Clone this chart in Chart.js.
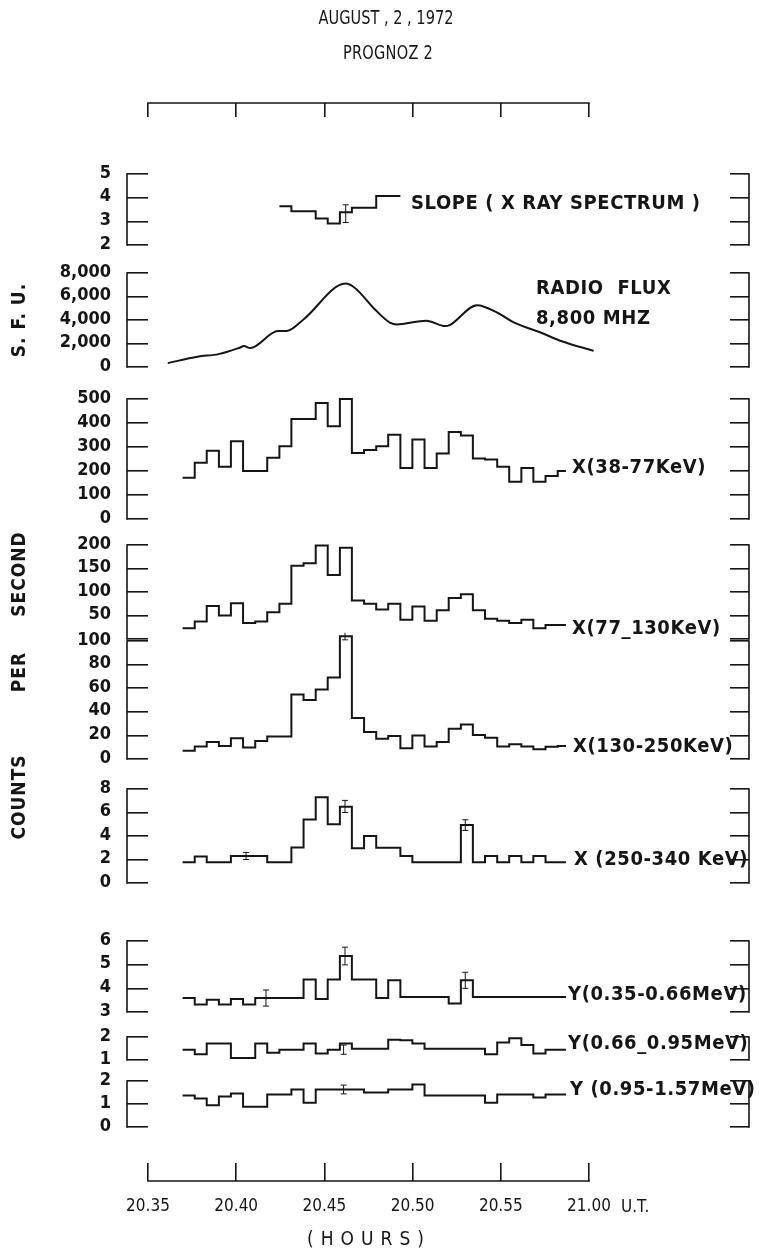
<!DOCTYPE html>
<html>
<head>
<meta charset="utf-8">
<script src="https://cdn.jsdelivr.net/npm/chart.js@4.4.0/dist/chart.umd.min.js"></script>
<style>
  body { margin: 0; background: #fff; }
  #fig { position: relative; width: 765px; height: 1254px; overflow: hidden; background: #fff;
         font-family: "DejaVu Sans Condensed", "Liberation Sans Narrow", "DejaVu Sans", sans-serif; color: #151515; }
  #fig canvas { position: absolute; left: 0; }
  .t { position: absolute; white-space: nowrap; transform: translateY(-50%); }
  .c { transform: translate(-50%, -50%); }
  .ttl { position: absolute; white-space: nowrap; font-size: 20px; transform: translate(-50%, -50%) scaleX(0.81); }
  .v { position: absolute; white-space: nowrap; font-weight: bold; font-size: 19px; letter-spacing: 1px;
       transform: translate(-50%, -50%) rotate(-90deg); }
  .lab { font-weight: bold; font-size: 20px; letter-spacing: 0.6px; }
</style>
</head>
<body>
<div id="fig">
  <div class="ttl" style="left:386px;top:17px">AUGUST , 2 , 1972</div>
  <div class="ttl" style="left:388px;top:52px;letter-spacing:0.3px">PROGNOZ 2</div>

  <div class="v" style="left:18px;top:320px">S. F. U.</div>
  <div class="v" style="left:18px;top:574px">SECOND</div>
  <div class="v" style="left:18px;top:672px">PER</div>
  <div class="v" style="left:18px;top:797px">COUNTS</div>

  <div class="t lab" style="left:411px;top:202px">SLOPE ( X RAY SPECTRUM )</div>
  <div class="t lab" style="left:536px;top:287px">RADIO&nbsp; FLUX</div>
  <div class="t lab" style="left:536px;top:317px">8,800 MHZ</div>
  <div class="t lab" style="left:572px;top:466px">X(38-77KeV)</div>
  <div class="t lab" style="left:572px;top:627px">X(77_130KeV)</div>
  <div class="t lab" style="left:573px;top:745px">X(130-250KeV)</div>
  <div class="t lab" style="left:574px;top:858px">X (250-340 KeV)</div>
  <div class="t lab" style="left:568px;top:993px">Y(0.35-0.66MeV)</div>
  <div class="t lab" style="left:568px;top:1042px">Y(0.66_0.95MeV)</div>
  <div class="t lab" style="left:570px;top:1088px">Y (0.95-1.57MeV)</div>

  <div class="t" style="left:621px;top:1206px;font-size:17px">U.T.</div>
  <div class="t c" style="left:369px;top:1238px;font-size:19px;letter-spacing:7px">(HOURS)</div>
</div>

<script>
// time in minutes after 20:00 U.T.
const timeTicks = [35, 40, 45, 50, 55, 60];
const timeLabels = ['20.35', '20.40', '20.45', '20.50', '20.55', '21.00'];

// edges of the ~41 s counting intervals (minutes after 20:00)
const binTimes = [36.96, 37.65, 38.33, 39.02, 39.70, 40.39, 41.08, 41.76, 42.45, 43.13, 43.82,
  44.51, 45.19, 45.88, 46.56, 47.25, 47.94, 48.62, 49.31, 49.99, 50.68, 51.37, 52.05,
  52.74, 53.42, 54.11, 54.80, 55.48, 56.17, 56.85, 57.54, 58.23, 58.70];

// slope of x ray spectrum (bins 8..17)
const slopeTimes = binTimes.slice(8, 19);
const slopeVals = [3.64, 3.43, 3.43, 3.12, 2.91, 3.38, 3.57, 3.57, 4.07, 4.07];
const slopeErr = [[46.21, 2.95, 3.7]];

// radio flux 8800 MHz (s.f.u.)
const radioTimes = [36.12, 37.8, 39.0, 40.2, 40.44, 40.8, 42.37, 42.85, 43.8, 46.2, 46.7, 47.9,
  48.74, 49.1, 50.78, 51.85, 52.1, 53.66, 54.86, 55.8, 57.26, 58.46, 60.27];
const radioVals = [329, 877, 1096, 1644, 1781, 1616, 3068, 3068, 4027, 7096, 6767, 4849,
  3753, 3616, 3945, 3479, 3562, 5260, 4575, 3753, 2932, 2192, 1370];

// counts per second
const x38Vals = [172, 234, 284, 218, 324, 200, 200, 255, 303, 417, 417, 483, 386, 500, 275, 287,
  303, 351, 213, 331, 213, 273, 362, 348, 252, 248, 218, 155, 213, 155, 179, 200];
const x77Vals = [23, 37, 70, 50, 76, 34, 37, 57, 75, 156, 161, 199, 136, 194, 82, 75,
  63, 75, 41, 69, 39, 61, 87, 95, 61, 43, 39, 34, 41, 23, 30, 30];
const x130Vals = [7, 10.5, 14.4, 11, 17.5, 9.7, 15.3, 19, 19, 54.7, 50, 59, 69, 104, 34.7, 22.8,
  17.2, 19.4, 9.2, 20, 10.6, 14.4, 25.6, 29.2, 20.3, 18, 10.6, 12.5, 10.6, 8.3, 10.3, 11];
const x130Err = [[46.17, 101, 107]];
const x250Vals = [1.77, 2.26, 1.77, 1.77, 2.3, 2.3, 2.3, 1.77, 1.77, 3.03, 5.4, 7.3, 5.0, 6.5, 2.95, 4.0,
  3.0, 3.0, 2.3, 1.77, 1.77, 1.77, 1.77, 4.94, 1.77, 2.3, 1.77, 2.3, 1.77, 2.3, 1.77, 1.77];
const x250Err = [[40.56, 2.0, 2.6], [46.17, 6.0, 7.03], [52.99, 4.47, 5.38]];
const y035Vals = [3.59, 3.32, 3.52, 3.32, 3.55, 3.32, 3.59, 3.59, 3.59, 3.59, 4.37, 3.55, 4.37, 5.37, 4.37, 4.37,
  3.59, 4.34, 3.63, 3.63, 3.63, 3.63, 3.36, 4.34, 3.63, 3.63, 3.63, 3.63, 3.63, 3.63, 3.63, 3.63];
const y035Err = [[41.69, 3.25, 3.93], [46.17, 4.99, 5.74], [52.99, 4.0, 4.68]];
const y066Vals = [1.45, 1.25, 1.72, 1.72, 1.09, 1.09, 1.72, 1.32, 1.45, 1.45, 1.72, 1.28, 1.45, 1.72, 1.49, 1.49,
  1.49, 1.88, 1.86, 1.72, 1.49, 1.49, 1.49, 1.49, 1.49, 1.25, 1.76, 1.95, 1.65, 1.28, 1.45, 1.45];
const y066Err = [[46.09, 1.25, 1.65]];
const y095Vals = [1.37, 1.24, 0.95, 1.33, 1.46, 0.88, 0.88, 1.41, 1.41, 1.63, 1.05, 1.63, 1.63, 1.63, 1.63, 1.5,
  1.5, 1.63, 1.63, 1.85, 1.37, 1.37, 1.37, 1.37, 1.37, 1.05, 1.41, 1.41, 1.41, 1.28, 1.41, 1.41];
const y095Err = [[46.09, 1.44, 1.82]];

const slopeTicks = [2, 3, 4, 5];
const radioTicks = [0, 2000, 4000, 6000, 8000];
const x38Ticks = [0, 100, 200, 300, 400, 500];
const x77Ticks = [0, 50, 100, 150, 200];
const x130Ticks = [0, 20, 40, 60, 80, 100];
const x250Ticks = [0, 2, 4, 6, 8];
const y035Ticks = [3, 4, 5, 6];
const y066Ticks = [1, 2];
const y095Ticks = [0, 1, 2];

const INK = '#151515';
const FONT = '"DejaVu Sans Condensed", "Liberation Sans Narrow", "DejaVu Sans", sans-serif';
const PAD = 16;
const fig = document.getElementById('fig');

function stepData(times, vals) {
  return times.map((t, i) => ({ x: t, y: vals[Math.min(i, vals.length - 1)] }));
}
function errData(list) {
  const out = [];
  list.forEach(([t, lo, hi]) => { out.push({ x: t, y: lo }, { x: t, y: hi }, { x: t, y: null }); });
  return out;
}
function addCanvas(top, height) {
  const c = document.createElement('canvas');
  c.width = 765; c.height = height;
  c.style.top = top + 'px';
  fig.insertBefore(c, fig.firstChild);
  return c;
}

const bracketPlugin = {
  id: 'brackets',
  afterDraw(chart) {
    const { ctx, chartArea } = chart;
    const y = chart.scales.y;
    const top = y.getPixelForValue(y.max) - 0.8, bot = y.getPixelForValue(y.min) + 0.8;
    ctx.save();
    ctx.strokeStyle = INK; ctx.lineWidth = 1.6;
    ctx.beginPath();
    ctx.moveTo(chartArea.left - 21, top); ctx.lineTo(chartArea.left - 21, bot);
    ctx.moveTo(chartArea.right + 19, top); ctx.lineTo(chartArea.right + 19, bot);
    ctx.stroke();
    ctx.restore();
  }
};

function makePanel(p) {
  const canvas = addCanvas(p.top - PAD, p.bottom - p.top + 2 * PAD);
  const datasets = [{
    data: p.data, stepped: p.smooth ? false : true, cubicInterpolationMode: 'monotone',
    borderColor: INK, borderWidth: 2, pointRadius: 0, clip: false
  }];
  if (p.err) {
    datasets.push({
      data: errData(p.err), borderColor: INK, borderWidth: 1, spanGaps: false, clip: false,
      pointStyle: 'line', pointRadius: 3, pointBorderWidth: 1, pointBorderColor: INK
    });
  }
  const setTicks = s => { s.ticks = p.ticks.map(v => ({ value: v })); };
  const fixPad = w => s => { s.width = w; s.paddingTop = 0; s.paddingBottom = 0; };
  new Chart(canvas, {
    type: 'line',
    data: { datasets },
    options: {
      responsive: false, animation: false, events: [],
      layout: { padding: { top: PAD, bottom: PAD, left: 0, right: 0 } },
      plugins: { legend: { display: false }, tooltip: { enabled: false } },
      scales: {
        x: { type: 'linear', min: 35, max: 68, display: false },
        y: {
          type: 'linear', position: 'left', min: p.ticks[0], max: p.ticks[p.ticks.length - 1],
          afterFit: fixPad(148), afterBuildTicks: setTicks,
          ticks: {
            autoSkip: false, padding: 16, labelOffset: -1, color: INK,
            font: { family: FONT, size: 18, weight: 'bold' },
            callback: v => (p.hide && p.hide.includes(v)) ? '' : v.toLocaleString('en-US')
          },
          grid: { drawOnChartArea: false, tickLength: 21, color: INK, lineWidth: 1.6 },
          border: { display: false }
        },
        yR: {
          type: 'linear', position: 'right', min: p.ticks[0], max: p.ticks[p.ticks.length - 1],
          afterFit: fixPad(35), afterBuildTicks: setTicks,
          ticks: { display: false, autoSkip: false },
          grid: { drawOnChartArea: false, tickLength: 19, color: INK, lineWidth: 1.6 },
          border: { display: false }
        }
      }
    },
    plugins: [bracketPlugin]
  });
}

makePanel({ top: 174, bottom: 245, ticks: slopeTicks, data: stepData(slopeTimes, slopeVals), err: slopeErr });
makePanel({ top: 273, bottom: 367, ticks: radioTicks, smooth: true,
  data: radioTimes.map((t, i) => ({ x: t, y: radioVals[i] })) });
makePanel({ top: 399, bottom: 519, ticks: x38Ticks, data: stepData(binTimes, x38Vals) });
makePanel({ top: 545, bottom: 639, ticks: x77Ticks, hide: [0], data: stepData(binTimes, x77Vals) });
makePanel({ top: 641, bottom: 759, ticks: x130Ticks, data: stepData(binTimes, x130Vals), err: x130Err });
makePanel({ top: 789, bottom: 883, ticks: x250Ticks, data: stepData(binTimes, x250Vals), err: x250Err });
makePanel({ top: 941, bottom: 1012, ticks: y035Ticks, data: stepData(binTimes, y035Vals), err: y035Err });
makePanel({ top: 1037, bottom: 1060, ticks: y066Ticks, data: stepData(binTimes, y066Vals), err: y066Err });
makePanel({ top: 1081, bottom: 1127, ticks: y095Ticks, data: stepData(binTimes, y095Vals), err: y095Err });

// time axes at top and bottom of the figure
const axisLinePlugin = {
  id: 'axisLines',
  afterDraw(chart) {
    const { ctx, chartArea } = chart;
    const yTop = chart.scales.xTop.top, yBot = chart.scales.x.top + 18;
    ctx.save();
    ctx.strokeStyle = INK; ctx.lineWidth = 1.6;
    ctx.beginPath();
    ctx.moveTo(chartArea.left - 0.8, yTop); ctx.lineTo(chartArea.right + 0.8, yTop);
    ctx.moveTo(chartArea.left - 0.8, yBot); ctx.lineTo(chartArea.right + 0.8, yBot);
    ctx.stroke();
    ctx.restore();
  }
};
const setTimeTicks = s => { s.ticks = timeTicks.map(v => ({ value: v })); };
new Chart(addCanvas(0, 1254), {
  type: 'line',
  data: { datasets: [] },
  options: {
    responsive: false, animation: false, events: [],
    layout: { padding: { left: 148, right: 176, top: 103, bottom: 31 } },
    plugins: { legend: { display: false }, tooltip: { enabled: false } },
    scales: {
      x: {
        type: 'linear', position: 'bottom', min: 35, max: 60, afterBuildTicks: setTimeTicks,
        afterFit: s => { s.height = 60; },
        ticks: { autoSkip: false, padding: 15, color: INK, maxRotation: 0, font: { family: FONT, size: 17 },
          callback: (v, i) => timeLabels[i] },
        grid: { drawOnChartArea: false, tickLength: 18, color: INK, lineWidth: 1.6 },
        border: { display: false }
      },
      xTop: {
        type: 'linear', position: 'top', min: 35, max: 60, afterBuildTicks: setTimeTicks,
        ticks: { display: false },
        grid: { drawOnChartArea: false, tickLength: 14, color: INK, lineWidth: 1.6 },
        border: { display: false }
      },
      y: { display: false, min: 0, max: 1 }
    }
  },
  plugins: [axisLinePlugin]
});
</script>
</body>
</html>
